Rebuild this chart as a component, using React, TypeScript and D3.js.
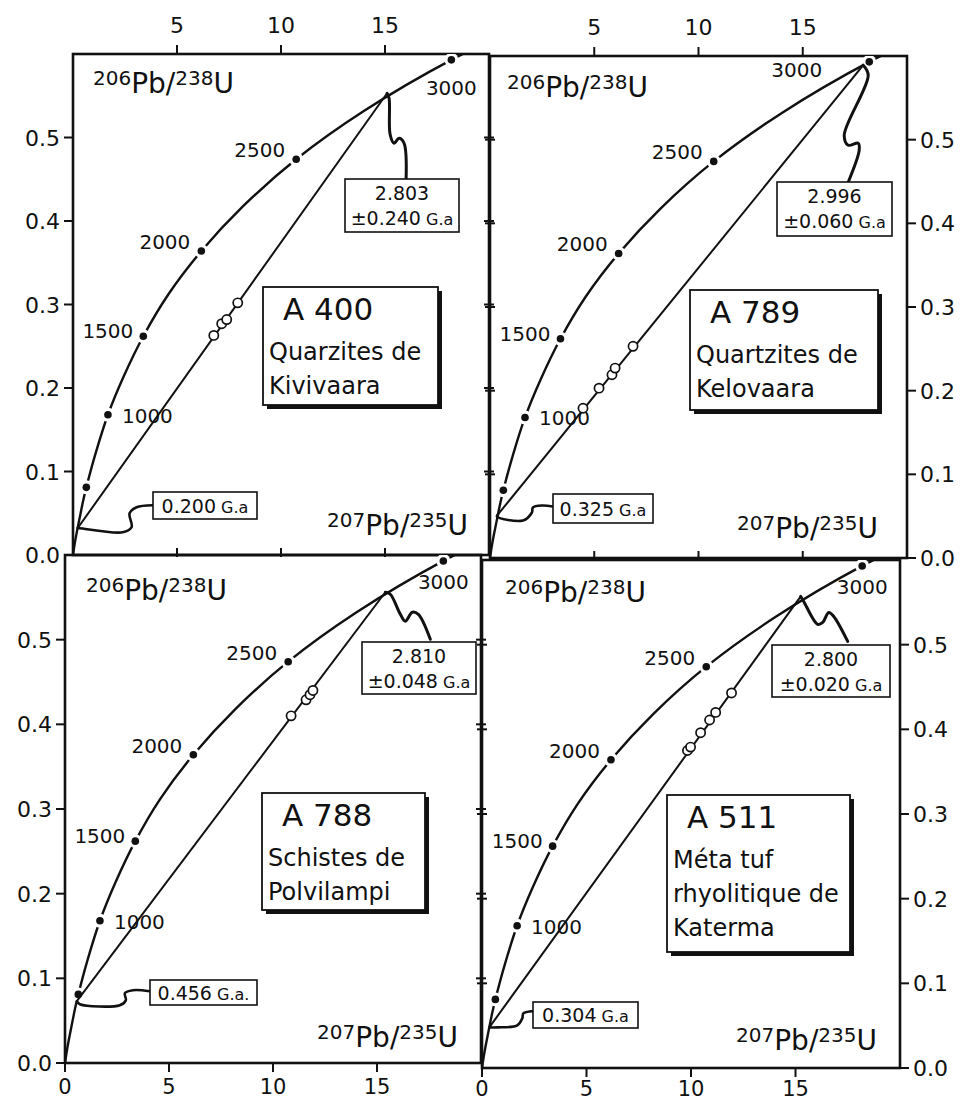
import React from 'react';
import * as d3 from 'd3';

// ---- Concordia curve ----
const CONCORDIA_AGE = [0, 100, 200, 300, 400, 500, 750, 1000, 1250, 1500, 1750, 2000, 2250, 2500, 2750, 3000, 3100];
const CONCORDIA_X = [0, 0.1, 0.22, 0.35, 0.48, 0.64, 1.1, 1.68, 2.44, 3.38, 4.58, 6.17, 8.19, 10.73, 14.0, 18.19, 20.2];
const CONCORDIA_Y = [0, 0.016, 0.032, 0.048, 0.064, 0.081, 0.123, 0.168, 0.214, 0.262, 0.312, 0.364, 0.418, 0.474, 0.532, 0.593, 0.617];
const MARKED_AGES = [500, 1000, 1500, 2000, 2500, 3000];
const LABELLED_AGES = [1000, 1500, 2000, 2500, 3000];

// ---- Samples ----
const SAMPLE_NAMES = ['A 400', 'A 789', 'A 788', 'A 511'];
const SAMPLE_DESCRIPTIONS = [
  ['Quarzites de', 'Kivivaara'],
  ['Quartzites de', 'Kelovaara'],
  ['Schistes de', 'Polvilampi'],
  ['Méta tuf', 'rhyolitique de', 'Katerma'],
];
const UPPER_AGE = ['2.803', '2.996', '2.810', '2.800'];
const UPPER_ERR = ['±0.240', '±0.060', '±0.048', '±0.020'];
const LOWER_AGE = ['0.200', '0.325', '0.456', '0.304'];
const LOWER_UNIT = ['G.a', 'G.a', 'G.a.', 'G.a'];
const LOWER_INTERCEPT_X = [0.22, 0.38, 0.57, 0.35];
const LOWER_INTERCEPT_Y = [0.032, 0.052, 0.073, 0.048];
const UPPER_INTERCEPT_X = [15.1, 17.9, 15.4, 15.25];
const UPPER_INTERCEPT_Y = [0.553, 0.589, 0.556, 0.557];
const POINTS_X = [
  [6.77, 7.15, 7.39, 7.92],
  [4.46, 5.23, 5.85, 6.0, 6.86],
  [10.87, 11.59, 11.78, 11.92],
  [9.83, 9.98, 10.46, 10.89, 11.18, 11.94],
];
const POINTS_Y = [
  [0.263, 0.277, 0.282, 0.302],
  [0.179, 0.203, 0.219, 0.227, 0.253],
  [0.41, 0.429, 0.435, 0.44],
  [0.375, 0.379, 0.396, 0.411, 0.42, 0.443],
];

// ---- Axes ----
const X_DOMAIN = [0, 20];
const Y_DOMAIN = [0, 0.6];
const X_TICKS_TOP = [5, 10, 15];
const X_TICKS_BOTTOM = [0, 5, 10, 15];
const Y_TICKS = [0, 0.1, 0.2, 0.3, 0.4, 0.5];
const Y_LABEL = ['206', 'Pb/', '238', 'U'];
const X_LABEL = ['207', 'Pb/', '235', 'U'];

// ---- Layout (pixels) ----
type Layout = {
  left: number; right: number; top: number; bottom: number;
  labelsLeft: boolean; labelsRight: boolean; labelsTop: boolean; labelsBottom: boolean;
  crossRight: boolean; crossBottom: boolean;
  upperBox: number[]; lowerBox: number[]; titleBox: number[];
  yLabelPos: number[]; xLabelPos: number[];
  upperLeader: number[][]; lowerLeader: number[][];
  label3000: number[];
};
const LAYOUT: Layout[] = [
  {
    left: 73, right: 489, top: 54, bottom: 555,
    labelsLeft: true, labelsRight: false, labelsTop: true, labelsBottom: false,
    crossRight: true, crossBottom: true,
    upperBox: [272, 125, 114, 53], lowerBox: [80, 438, 104, 27], titleBox: [190, 233, 175, 118],
    yLabelPos: [20, 39], xLabelPos: [395, 481],
    upperLeader: [[2, 5], [3, 41], [7, 50], [12, 45], [17, 50], [19, 87]],
    lowerLeader: [[2, 0], [45, 4], [54, -1], [52, -15], [59, -21], [75, -23]],
    label3000: [0, 35, 0],
  },
  {
    left: 490, right: 907, top: 56, bottom: 558,
    labelsLeft: false, labelsRight: true, labelsTop: true, labelsBottom: false,
    crossRight: false, crossBottom: true,
    upperBox: [287, 126, 115, 54], lowerBox: [63, 438, 100, 29], titleBox: [200, 234, 188, 120],
    yLabelPos: [17, 41], xLabelPos: [388, 482],
    upperLeader: [[5, 10], [-19, 70], [-15, 80], [-5, 78], [-4, 85], [-15, 117]],
    lowerLeader: [[-1, 2], [25, 6], [34, -2], [35, -7], [44, -9], [55, -8]],
    label3000: [-47, 15, 1],
  },
  {
    left: 65, right: 481, top: 555, bottom: 1063,
    labelsLeft: true, labelsRight: false, labelsTop: false, labelsBottom: true,
    crossRight: true, crossBottom: false,
    upperBox: [297, 87, 114, 52], lowerBox: [85, 425, 107, 25], titleBox: [197, 238, 163, 117],
    yLabelPos: [21, 45], xLabelPos: [393, 492],
    upperLeader: [[5, 2], [15, 22], [20, 29], [27, 20], [33, 22], [45, 47]],
    lowerLeader: [[3, 3], [43, 4], [49, -1], [48, -8], [56, -11], [73, -10]],
    label3000: [0, 28, 0],
  },
  {
    left: 482, right: 900, top: 560, bottom: 1068,
    labelsLeft: false, labelsRight: true, labelsTop: false, labelsBottom: true,
    crossRight: false, crossBottom: false,
    upperBox: [290, 85, 118, 52], lowerBox: [51, 442, 105, 26], titleBox: [185, 235, 183, 157],
    yLabelPos: [23, 42], xLabelPos: [395, 490],
    upperLeader: [[3, 5], [17, 28], [22, 26], [28, 16], [33, 20], [47, 45]],
    lowerLeader: [[8, 0], [28, -2], [33, -9], [34, -14], [41, -16], [44, -16]],
    label3000: [0, 28, 0],
  },
];

const FONT = '"DejaVu Sans", Verdana, sans-serif';
const INK = '#111';

function Panel({ i }: { i: number }) {
  const L = LAYOUT[i];
  const xs = d3.scaleLinear().domain(X_DOMAIN).range([L.left, L.right]);
  const ys = d3.scaleLinear().domain(Y_DOMAIN).range([L.bottom, L.top]);
  const clipId = `clip-${i}`;

  const conc: [number, number][] = CONCORDIA_X.map((x, k) => [x, CONCORDIA_Y[k]]);
  const concLine = d3
    .line<[number, number]>()
    .x((d) => xs(d[0]))
    .y((d) => ys(d[1]))
    .curve(d3.curveCatmullRom.alpha(0.5));

  const ageIndex = (a: number) => CONCORDIA_AGE.indexOf(a);

  const lx = xs(LOWER_INTERCEPT_X[i]);
  const ly = ys(LOWER_INTERCEPT_Y[i]);
  const ux = xs(UPPER_INTERCEPT_X[i]);
  const uy = ys(UPPER_INTERCEPT_Y[i]);

  const leader = d3
    .line<number[]>()
    .x((d) => d[0])
    .y((d) => d[1])
    .curve(d3.curveCatmullRom.alpha(0.5));

  const upperPts = [[ux, uy], ...L.upperLeader.map((p) => [ux + p[0], uy + p[1]])];
  const lowerPts = [[lx, ly], ...L.lowerLeader.map((p) => [lx + p[0], ly + p[1]])];

  const ub = L.upperBox, lb = L.lowerBox, tb = L.titleBox;
  const ubx = L.left + ub[0], uby = L.top + ub[1];
  const lbx = L.left + lb[0], lby = L.top + lb[1];
  const tbx = L.left + tb[0], tby = L.top + tb[1];

  const tick = 9;
  const cross = 5;

  return (
    <g>
      <defs>
        <clipPath id={clipId}>
          <rect x={L.left} y={L.top} width={L.right - L.left} height={L.bottom - L.top} />
        </clipPath>
      </defs>

      {/* frame */}
      <rect x={L.left} y={L.top} width={L.right - L.left} height={L.bottom - L.top} fill="none" stroke={INK} strokeWidth={2.6} />

      {/* left axis */}
      {L.labelsLeft &&
        Y_TICKS.map((t) => (
          <g key={`yl${t}`}>
            <line x1={L.left - tick} x2={L.left} y1={ys(t)} y2={ys(t)} stroke={INK} strokeWidth={2} />
            <text x={L.left - 13} y={ys(t) + 8} textAnchor="end" fontSize={22} fontFamily={FONT} fill={INK}>
              {t.toFixed(1)}
            </text>
          </g>
        ))}
      {!L.labelsLeft &&
        Y_TICKS.filter((t) => t > 0).map((t) => (
          <line key={`ylc${t}`} x1={L.left - cross} x2={L.left + cross} y1={ys(t)} y2={ys(t)} stroke={INK} strokeWidth={2} />
        ))}
      {/* right axis */}
      {L.labelsRight &&
        Y_TICKS.map((t) => (
          <g key={`yr${t}`}>
            <line x1={L.right} x2={L.right + tick} y1={ys(t)} y2={ys(t)} stroke={INK} strokeWidth={2} />
            <text x={L.right + 13} y={ys(t) + 8} textAnchor="start" fontSize={22} fontFamily={FONT} fill={INK}>
              {t.toFixed(1)}
            </text>
          </g>
        ))}
      {L.crossRight &&
        Y_TICKS.filter((t) => t > 0).map((t) => (
          <line key={`yrc${t}`} x1={L.right - cross} x2={L.right + cross} y1={ys(t)} y2={ys(t)} stroke={INK} strokeWidth={2} />
        ))}
      {/* top axis */}
      {L.labelsTop &&
        X_TICKS_TOP.map((t) => (
          <g key={`xt${t}`}>
            <line x1={xs(t)} x2={xs(t)} y1={L.top - tick} y2={L.top} stroke={INK} strokeWidth={2} />
            <text x={xs(t)} y={L.top - 21} textAnchor="middle" fontSize={22} fontFamily={FONT} fill={INK}>
              {t}
            </text>
          </g>
        ))}
      {/* bottom axis */}
      {L.labelsBottom &&
        X_TICKS_BOTTOM.map((t) => (
          <g key={`xb${t}`}>
            <line x1={xs(t)} x2={xs(t)} y1={L.bottom} y2={L.bottom + tick} stroke={INK} strokeWidth={2} />
            <text x={xs(t)} y={Math.min(L.bottom + 31, 1096)} textAnchor="middle" fontSize={21} fontFamily={FONT} fill={INK}>
              {t}
            </text>
          </g>
        ))}
      {L.crossBottom &&
        X_TICKS_TOP.map((t) => (
          <line key={`xbc${t}`} x1={xs(t)} x2={xs(t)} y1={L.bottom - cross - 2} y2={L.bottom + 2} stroke={INK} strokeWidth={2} />
        ))}

      {/* concordia */}
      <g clipPath={`url(#${clipId})`}>
        <path d={concLine(conc) || ''} fill="none" stroke={INK} strokeWidth={2.4} />
        {MARKED_AGES.map((a) => {
          const k = ageIndex(a);
          return <circle key={`h${a}`} cx={xs(CONCORDIA_X[k])} cy={ys(CONCORDIA_Y[k])} r={7} fill="white" />;
        })}
        {MARKED_AGES.map((a) => {
          const k = ageIndex(a);
          return <circle key={`d${a}`} cx={xs(CONCORDIA_X[k])} cy={ys(CONCORDIA_Y[k])} r={3.8} fill={INK} />;
        })}
      </g>

      {/* age labels */}
      {LABELLED_AGES.map((a) => {
        const k = ageIndex(a);
        const cx = xs(CONCORDIA_X[k]);
        const cy = ys(CONCORDIA_Y[k]);
        let x = cx, y = cy, anchor = 'end';
        if (a === 1000) { x = cx + 14; y = cy + 8; anchor = 'start'; }
        else if (a === 1500) { x = cx - 10; y = cy + 2; }
        else if (a === 3000) {
          x = cx + L.label3000[0]; y = cy + L.label3000[1];
          anchor = L.label3000[2] === 1 ? 'end' : 'middle';
        } else { x = cx - 11; y = cy - 2; }
        return (
          <text key={`l${a}`} x={x} y={y} textAnchor={anchor} fontSize={20} fontFamily={FONT} fill={INK}>
            {a}
          </text>
        );
      })}

      {/* discordia */}
      <line x1={lx} y1={ly} x2={ux} y2={uy} stroke={INK} strokeWidth={2} />
      {POINTS_X[i].map((px, k) => (
        <circle key={`p${k}`} cx={xs(px)} cy={ys(POINTS_Y[i][k])} r={4.6} fill="white" stroke={INK} strokeWidth={1.7} />
      ))}

      {/* leaders */}
      <path d={leader(upperPts) || ''} fill="none" stroke={INK} strokeWidth={3} strokeLinecap="round" strokeLinejoin="round" />
      <path d={leader(lowerPts) || ''} fill="none" stroke={INK} strokeWidth={2.6} strokeLinecap="round" strokeLinejoin="round" />

      {/* upper intercept box */}
      <rect x={ubx} y={uby} width={ub[2]} height={ub[3]} fill="white" stroke={INK} strokeWidth={1.6} />
      <text x={ubx + ub[2] / 2} y={uby + 21} textAnchor="middle" fontSize={19} fontFamily={FONT} fill={INK}>
        {UPPER_AGE[i]}
      </text>
      <text x={ubx + ub[2] / 2} y={uby + 46} textAnchor="middle" fontSize={19} fontFamily={FONT} fill={INK}>
        {UPPER_ERR[i]}
        <tspan fontSize={16}>{' ' + 'G.a'}</tspan>
      </text>

      {/* lower intercept box */}
      <rect x={lbx} y={lby} width={lb[2]} height={lb[3]} fill="white" stroke={INK} strokeWidth={1.6} />
      <text x={lbx + lb[2] / 2} y={lby + lb[3] / 2 + 7} textAnchor="middle" fontSize={19} fontFamily={FONT} fill={INK}>
        {LOWER_AGE[i]}
        <tspan fontSize={16}>{' ' + LOWER_UNIT[i]}</tspan>
      </text>

      {/* title box with shadow */}
      <rect x={tbx + 4} y={tby + 4} width={tb[2]} height={tb[3]} fill={INK} />
      <rect x={tbx} y={tby} width={tb[2]} height={tb[3]} fill="white" stroke={INK} strokeWidth={1.8} />
      <text x={tbx + 20} y={tby + 33} fontSize={31} fontFamily={FONT} fill={INK}>
        {SAMPLE_NAMES[i]}
      </text>
      {SAMPLE_DESCRIPTIONS[i].map((s, k) => (
        <text key={`t${k}`} x={tbx + 6} y={tby + 73 + k * 34} fontSize={24} fontFamily={FONT} fill={INK}>
          {s}
        </text>
      ))}

      {/* axis name labels */}
      <text x={L.left + L.yLabelPos[0]} y={L.top + L.yLabelPos[1]} fontFamily={FONT} fill={INK}>
        <tspan fontSize={20} dy={-8}>{Y_LABEL[0]}</tspan>
        <tspan fontSize={28} dy={8}>{Y_LABEL[1]}</tspan>
        <tspan fontSize={20} dy={-8}>{Y_LABEL[2]}</tspan>
        <tspan fontSize={28} dy={8}>{Y_LABEL[3]}</tspan>
      </text>
      <text x={L.left + L.xLabelPos[0]} y={L.top + L.xLabelPos[1]} textAnchor="end" fontFamily={FONT} fill={INK}>
        <tspan fontSize={20} dy={-8}>{X_LABEL[0]}</tspan>
        <tspan fontSize={28} dy={8}>{X_LABEL[1]}</tspan>
        <tspan fontSize={20} dy={-8}>{X_LABEL[2]}</tspan>
        <tspan fontSize={28} dy={8}>{X_LABEL[3]}</tspan>
      </text>
    </g>
  );
}

export default function App() {
  return (
    <svg
      width={960}
      height={1106}
      viewBox="0 0 960 1106"
      style={{ position: 'absolute', left: 0, top: 0, background: 'white' }}
    >
      <rect x={0} y={0} width={960} height={1106} fill="white" />
      {SAMPLE_NAMES.map((_, i) => (
        <Panel key={i} i={i} />
      ))}
    </svg>
  );
}
